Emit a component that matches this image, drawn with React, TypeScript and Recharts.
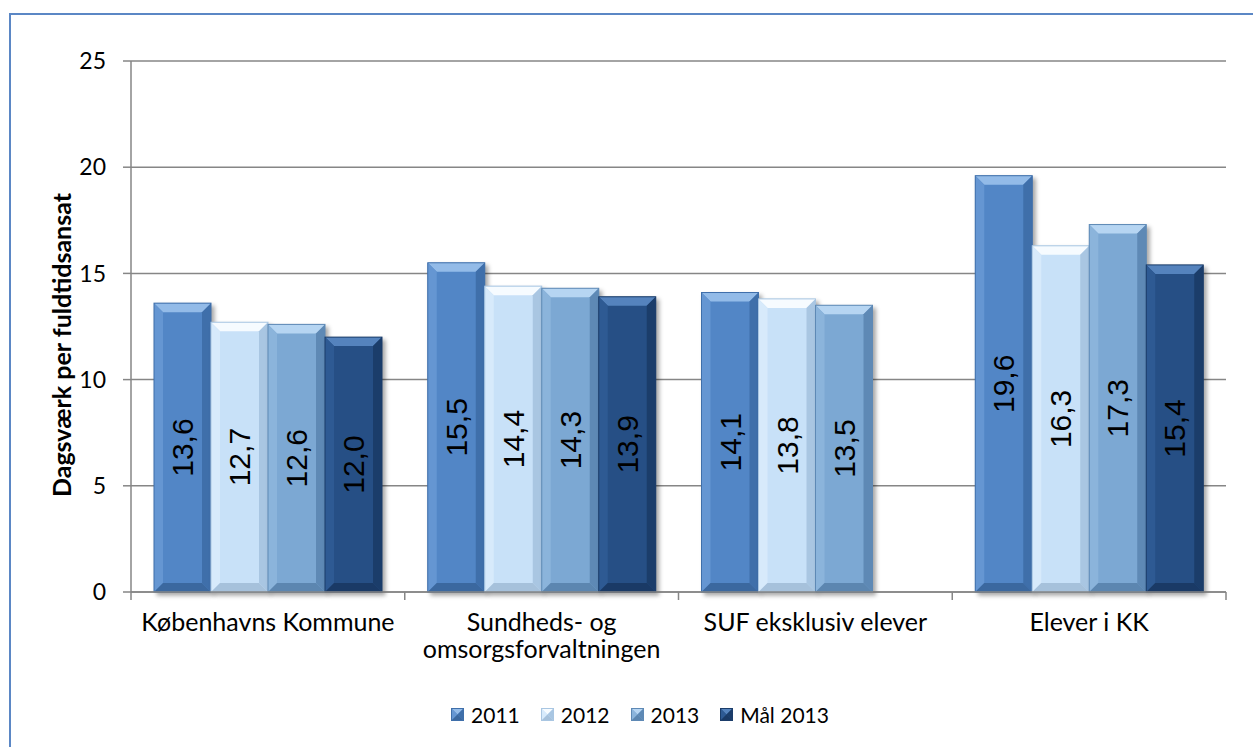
import React from "react"
import {
  Bar,
  BarChart,
  CartesianGrid,
  LabelList,
  XAxis,
  YAxis,
} from "recharts"

const categories = [
  "Københavns Kommune",
  "Sundheds- og\nomsorgsforvaltningen",
  "SUF eksklusiv elever",
  "Elever i KK",
]
const values2011 = [13.6, 15.5, 14.1, 19.6]
const values2012 = [12.7, 14.4, 13.8, 16.3]
const values2013 = [12.6, 14.3, 13.5, 17.3]
const valuesGoal2013: Array<number | null> = [12.0, 13.9, null, 15.4]
const yTicks = [0, 5, 10, 15, 20, 25]

type Series = {
  key: string
  name: string
  values: Array<number | null>
  base: string
  top: string
  left: string
  right: string
  bottom: string
}

const SERIES: Series[] = [
  { key: "y2011", name: "2011", values: values2011, base: "#5286C6", top: "#93BBE8", left: "#6596D2", right: "#3F6FAA", bottom: "#3B689F" },
  { key: "y2012", name: "2012", values: values2012, base: "#C8E1F8", top: "#F6FBFF", left: "#D7EAFB", right: "#A9C6E2", bottom: "#A6C1DB" },
  { key: "y2013", name: "2013", values: values2013, base: "#7CA8D3", top: "#B6D5F2", left: "#8BB4DB", right: "#5E89B5", bottom: "#5C86B0" },
  { key: "goal2013", name: "Mål 2013", values: valuesGoal2013, base: "#264F85", top: "#5583BD", left: "#2E5A93", right: "#1B3D6A", bottom: "#1A3A66" },
]

const data = categories.map((name, i) => {
  const row: Record<string, string | number | null> = { name }
  SERIES.forEach((s) => {
    row[s.key] = s.values[i]
  })
  return row
})

const FONT = "Lato, 'Open Sans', sans-serif"
const AXIS = "#868686"

function bevelShape(s: Series) {
  return (props: any) => {
    const { x, y, width: w, height: h } = props
    if (h == null || h <= 0) return <g />
    const b = Math.min(9, w / 2, h / 2)
    return (
      <g style={{ filter: "drop-shadow(3px 3px 2px rgba(0,0,0,0.35))" }}>
        <rect x={x} y={y} width={w} height={h} fill={s.base} />
        <polygon
          points={`${x},${y} ${x + w},${y} ${x + w - b},${y + b} ${x + b},${y + b}`}
          fill={s.top}
        />
        <polygon
          points={`${x},${y} ${x + b},${y + b} ${x + b},${y + h - b} ${x},${y + h}`}
          fill={s.left}
        />
        <polygon
          points={`${x + w},${y} ${x + w},${y + h} ${x + w - b},${y + h - b} ${x + w - b},${y + b}`}
          fill={s.right}
        />
        <polygon
          points={`${x},${y + h} ${x + b},${y + h - b} ${x + w - b},${y + h - b} ${x + w},${y + h}`}
          fill={s.bottom}
        />
        <rect x={x} y={y} width={w} height={h} fill="none" stroke={s.right} strokeWidth={1} />
      </g>
    )
  }
}

const renderValue = (props: any) => {
  const { x, y, width, height, value } = props
  if (value == null) return null
  const cx = x + width / 2
  const cy = y + height / 2
  return (
    <text
      transform={`translate(${cx},${cy}) rotate(-90)`}
      textAnchor="middle"
      dominantBaseline="central"
      fontFamily="'Liberation Sans', Arial, sans-serif"
      fontSize={30}
      fill="#000"
    >
      {Number(value).toFixed(1).replace(".", ",")}
    </text>
  )
}

// category label, plus tick marks on the band edges (between categories)
const CategoryTick = (props: any) => {
  const { x, y, payload, index, visibleTicksCount } = props
  const lines = String(payload.value).split("\n")
  const half = payload.offset ?? 0
  const axisY = y - 21
  const isLast = index === (visibleTicksCount ?? categories.length) - 1
  return (
    <g>
      <line x1={x - half} x2={x - half} y1={axisY} y2={axisY + 8} stroke={AXIS} strokeWidth={1.5} />
      {isLast && (
        <line x1={x + half} x2={x + half} y1={axisY} y2={axisY + 8} stroke={AXIS} strokeWidth={1.5} />
      )}
      <text x={x} y={y} textAnchor="middle" fontFamily={FONT} fontSize={25} fill="#000">
        {lines.map((line, i) => (
          <tspan key={i} x={x} dy={i === 0 ? "0.71em" : "1.1em"}>
            {line}
          </tspan>
        ))}
      </text>
    </g>
  )
}

function LegendIcon({ s }: { s: Series }) {
  return (
    <svg width={13} height={13} style={{ display: "block" }}>
      <rect x={0} y={0} width={13} height={13} fill={s.base} />
      <polygon points="0,0 13,0 6.5,6.5" fill={s.top} />
      <polygon points="0,0 6.5,6.5 0,13" fill={s.left} />
      <polygon points="13,0 13,13 6.5,6.5" fill={s.right} />
      <polygon points="0,13 6.5,6.5 13,13" fill={s.bottom} />
      <rect x={0.5} y={0.5} width={12} height={12} fill="none" stroke={s.right} />
    </svg>
  )
}

export default function App() {
  return (
    <div style={{ position: "relative", width: 1253, height: 747, overflow: "hidden", background: "#fff" }}>
      <style>{`body{margin:0}`}</style>
      <div
        style={{
          position: "absolute",
          left: 9,
          top: 13,
          width: 1400,
          height: 900,
          border: "2px solid #5B87C5",
        }}
      />
      <div style={{ position: "absolute", left: 0, top: 0 }}>
        <BarChart
          width={1253}
          height={747}
          data={data}
          margin={{ top: 61, right: 27, bottom: 55, left: 71 }}
          barCategoryGap={23}
          barGap={0}
        >
          <CartesianGrid vertical={false} stroke={AXIS} strokeWidth={1.5} />
          <XAxis
            dataKey="name"
            tickLine={false}
            tickSize={0}
            tickMargin={21}
            interval={0}
            height={100}
            axisLine={{ stroke: AXIS, strokeWidth: 1.5 }}
            tick={<CategoryTick />}
          />
          <YAxis
            domain={[0, 25]}
            ticks={yTicks}
            width={60}
            tickSize={8}
            tickMargin={17}
            axisLine={{ stroke: AXIS, strokeWidth: 1.5 }}
            tickLine={{ stroke: AXIS, strokeWidth: 1.5 }}
            tick={{ fill: "#000", fontSize: 23, fontFamily: FONT }}
            label={{
              content: () => (
                <text
                  transform="translate(61,345) rotate(-90)"
                  textAnchor="middle"
                  dominantBaseline="central"
                  fontFamily={FONT}
                  fontWeight="bold"
                  fontSize={25}
                  fill="#000"
                >
                  Dagsværk per fuldtidsansat
                </text>
              ),
            }}
          />
          {SERIES.map((s) => (
            <Bar
              key={s.key}
              dataKey={s.key}
              name={s.name}
              fill={s.base}
              shape={bevelShape(s)}
              isAnimationActive={false}
            >
              <LabelList dataKey={s.key} content={renderValue} />
            </Bar>
          ))}
        </BarChart>
      </div>
      <div
        style={{
          position: "absolute",
          top: 702,
          left: 0,
          width: 1280,
          display: "flex",
          justifyContent: "center",
          alignItems: "center",
          gap: 21,
          fontFamily: FONT,
          fontSize: 21,
          color: "#000",
        }}
      >
        {SERIES.map((s) => (
          <div key={s.key} style={{ display: "flex", alignItems: "center" }}>
            <LegendIcon s={s} />
            <span style={{ marginLeft: 7 }}>{s.name}</span>
          </div>
        ))}
      </div>
    </div>
  )
}
